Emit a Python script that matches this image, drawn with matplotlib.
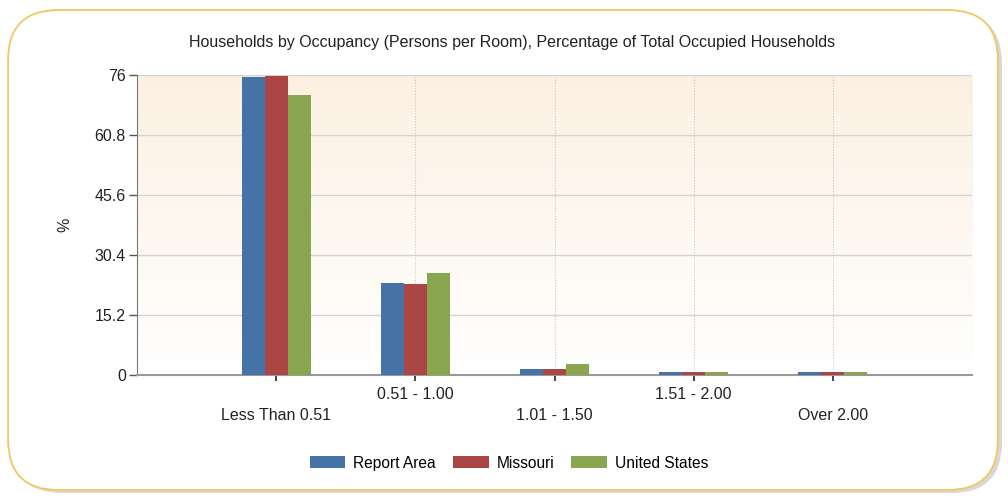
import numpy as np
import matplotlib
matplotlib.use("Agg")
import matplotlib.pyplot as plt
from matplotlib.patches import FancyBboxPatch

plt.rcParams['font.family'] = ['Liberation Sans', 'DejaVu Sans']

# occupancy categories and values (% of occupied households)
categories = ["Less Than 0.51", "0.51 - 1.00", "1.01 - 1.50", "1.51 - 2.00", "Over 2.00"]
report_area = [75.4, 23.2, 1.6, 0.8, 0.8]
missouri = [75.8, 23.0, 1.6, 0.8, 0.8]
united_states = [71.0, 25.8, 2.7, 0.8, 0.8]
series_names = ["Report Area", "Missouri", "United States"]
colors = ["#4572A7", "#AA4643", "#89A54E"]
y_ticks = [0, 15.2, 30.4, 45.6, 60.8, 76]

fig = plt.figure(figsize=(10.08, 4.99), dpi=100)

# rounded frame with a soft shadow
shadow = FancyBboxPatch((0.012, 0.012), 0.982, 0.962, boxstyle="round,pad=0,rounding_size=0.05",
                        transform=fig.transFigure, facecolor="#d8d8d8", edgecolor="none",
                        mutation_aspect=2.02, zorder=-3)
frame = FancyBboxPatch((0.008, 0.018), 0.982, 0.962, boxstyle="round,pad=0,rounding_size=0.05",
                       transform=fig.transFigure, facecolor="white", edgecolor="#f0c860",
                       linewidth=1.3, mutation_aspect=2.02, zorder=-2)
fig.patches.extend([shadow, frame])

ax = fig.add_axes([0.1359, 0.2485, 0.8284, 0.6012])
ax.set_facecolor("none")

# soft beige-to-white gradient behind the bars
grad = np.linspace(1, 0, 256).reshape(-1, 1)
top = np.array([0.988, 0.943, 0.885])
bottom = np.array([1.0, 1.0, 1.0])
img = bottom + grad[..., None] * (top - bottom)
ax.imshow(img, extent=[-1, 5, 0, 76], aspect="auto", zorder=0, origin="upper")

x = np.arange(len(categories))
width = 0.165
for i, (vals, name, col) in enumerate(zip([report_area, missouri, united_states], series_names, colors)):
    ax.bar(x + (i - 1) * width, vals, width, color=col, label=name, zorder=3)

ax.set_xlim(-1, 5)
ax.set_ylim(0, 76)

# grid lines
for yt in y_ticks[1:]:
    ax.axhline(yt, color="#d3d3d3", linewidth=1, zorder=1)
for xv in range(0, 6):
    ax.axvline(xv, color="#c8c8c8", linewidth=0.8, linestyle=(0, (1, 1.5)), zorder=1)

ax.set_yticks(y_ticks)
ax.set_yticklabels(["0", "15.2", "30.4", "45.6", "60.8", "76"])
ax.tick_params(axis="y", length=6, width=1, color="#555555", labelsize=11.5, labelcolor="#222222", pad=2)

# staggered category labels
ax.set_xticks([1, 3])
ax.set_xticklabels([categories[1], categories[3]])
ax.set_xticks([0, 2, 4], minor=True)
ax.set_xticklabels([categories[0], categories[2], categories[4]], minor=True)
ax.tick_params(axis="x", which="major", length=4, width=1.2, color="#222222", labelsize=11.5,
               labelcolor="#222222", pad=5)
ax.tick_params(axis="x", which="minor", length=4, width=1.2, color="#222222", labelsize=11.5,
               labelcolor="#222222", pad=20)

for side in ["top", "right"]:
    ax.spines[side].set_visible(False)
ax.spines["left"].set_color("#777777")
ax.spines["bottom"].set_color("#999999")
ax.spines["bottom"].set_linewidth(1.5)

ax.set_ylabel("%", fontsize=11.5, color="#222222", labelpad=16)
fig.text(0.508, 0.915, "Households by Occupancy (Persons per Room), Percentage of Total Occupied Households",
         ha="center", va="center", fontsize=11.5, color="#222222")

fig.legend(loc="center", bbox_to_anchor=(0.505, 0.072), ncol=3, frameon=False, fontsize=11.2,
           handlelength=2.3, handleheight=0.8, columnspacing=1.1, handletextpad=0.5)

fig.savefig("out.png", dpi=100)
